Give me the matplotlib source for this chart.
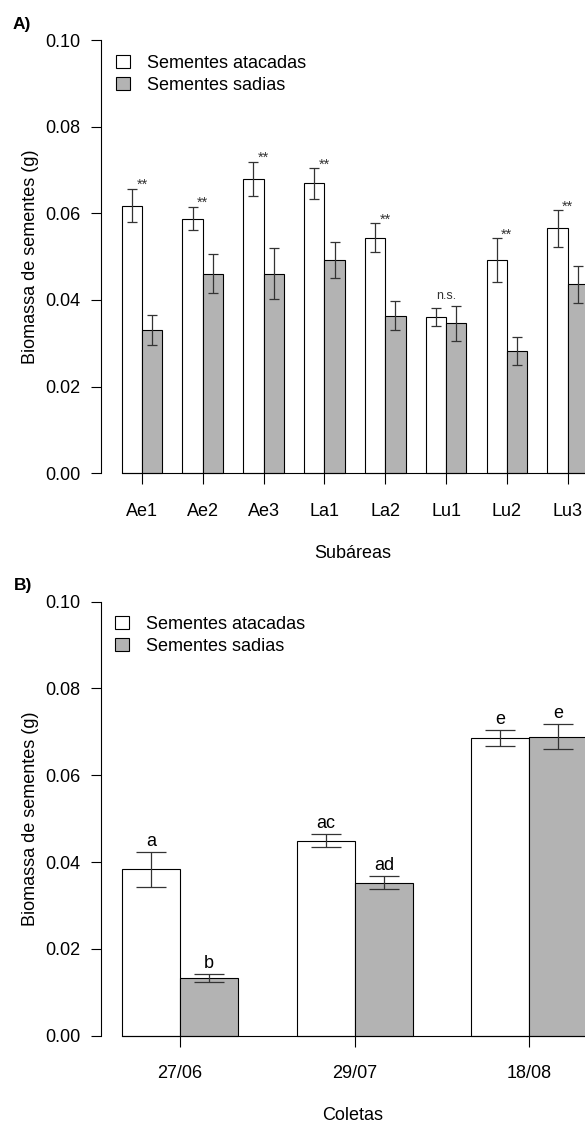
import numpy as np
import matplotlib.pyplot as plt
from matplotlib.patches import Patch

plt.rcParams['font.family'] = ['Liberation Sans', 'DejaVu Sans']
plt.rcParams['font.size'] = 13

# painel A - subareas
subareas = ['Ae1', 'Ae2', 'Ae3', 'La1', 'La2', 'Lu1', 'Lu2', 'Lu3']
a_atacadas = [0.0618, 0.0588, 0.0679, 0.0669, 0.0544, 0.0361, 0.0492, 0.0565]
a_atacadas_se = [0.0039, 0.0027, 0.0040, 0.0035, 0.0034, 0.0020, 0.0051, 0.0042]
a_sadias = [0.0331, 0.0461, 0.0461, 0.0492, 0.0364, 0.0346, 0.0282, 0.0436]
a_sadias_se = [0.0034, 0.0045, 0.0058, 0.0042, 0.0033, 0.0041, 0.0033, 0.0042]
a_signif = ['**', '**', '**', '**', '**', 'n.s.', '**', '**']

# painel B - coletas
coletas = ['27/06', '29/07', '18/08']
b_atacadas = [0.0383, 0.0449, 0.0686]
b_atacadas_se = [0.0040, 0.0015, 0.0018]
b_sadias = [0.0133, 0.0353, 0.0689]
b_sadias_se = [0.00085, 0.00145, 0.0029]
b_letras_atacadas = ['a', 'ac', 'e']
b_letras_sadias = ['b', 'ad', 'e']

yticks = [0.00, 0.02, 0.04, 0.06, 0.08, 0.10]
cinza = '#b3b3b3'

W, H = 585, 1126
fig = plt.figure(figsize=(W / 100, H / 100), dpi=100)


def px_axes(left, right, top, bottom):
    return fig.add_axes([left / W, 1 - bottom / H, (right - left) / W, (bottom - top) / H])


def painel(ax, labels, atac, atac_se, sad, sad_se, xlim, capsize, xlabel):
    centers = 2 + 3 * np.arange(len(labels))
    ax.bar(centers - 0.5, atac, width=1, color='white', edgecolor='black', linewidth=0.8)
    ax.bar(centers + 0.5, sad, width=1, color=cinza, edgecolor='black', linewidth=0.8)
    for xs, m, s in [(centers - 0.5, atac, atac_se), (centers + 0.5, sad, sad_se)]:
        ax.errorbar(xs, m, yerr=s, fmt='none', ecolor='#333333', elinewidth=0.9,
                    capsize=capsize, capthick=0.9)
    ax.set_xlim(xlim)
    ax.set_ylim(-0.004, 0.104)
    for s in ['top', 'right']:
        ax.spines[s].set_visible(False)
    ax.spines['left'].set_bounds(0, 0.1)
    ax.spines['left'].set_linewidth(0.8)
    ax.spines['bottom'].set_position(('data', 0))
    ax.spines['bottom'].set_bounds(centers[0] - 1, xlim[1])
    ax.spines['bottom'].set_linewidth(0.8)
    ax.set_xticks(centers, labels)
    ax.set_yticks(yticks, ['%.2f' % v for v in yticks])
    ax.tick_params(axis='x', length=7.7, width=0.8, pad=13.5, labelsize=13)
    ax.tick_params(axis='y', length=7, width=0.8, pad=8, labelsize=13)
    ax.set_ylabel('Biomassa de sementes (g)', fontsize=13, labelpad=4)
    ax.set_xlabel(xlabel, fontsize=13, labelpad=18)
    return centers


handles = [Patch(facecolor='white', edgecolor='black', linewidth=0.8, label='Sementes atacadas'),
           Patch(facecolor=cinza, edgecolor='black', linewidth=0.8, label='Sementes sadias')]
leg_kw = dict(loc='upper left', bbox_transform=fig.transFigure, frameon=False, borderpad=0,
              borderaxespad=0, handlelength=0.8, handleheight=0.7, handletextpad=0.9,
              labelspacing=0.27, fontsize=13)

# A)
axA = px_axes(101, 605, 22.7, 490.6)
cA = painel(axA, subareas, a_atacadas, a_atacadas_se, a_sadias, a_sadias_se,
            (-0.02, 24.84), 3.6, 'Subáreas')
topo = np.maximum(np.array(a_atacadas) + a_atacadas_se, np.array(a_sadias) + a_sadias_se)
for x, t, lab in zip(cA, topo, a_signif):
    if lab == '**':
        axA.text(x, t - 0.0001, lab, ha='center', va='baseline', fontsize=10.5, color='#333333')
    else:
        axA.text(x, t + 0.0015, lab, ha='center', va='baseline', fontsize=9, color='#333333')
axA.legend(handles=handles, bbox_to_anchor=(116 / W, 1 - 55 / H), **leg_kw)
fig.text(13 / W, 1 - 24 / H, 'A)', fontsize=12.5, fontweight='bold', va='center')

# B)
axB = px_axes(101, 605, 584.3, 1053.1)
cB = painel(axB, coletas, b_atacadas, b_atacadas_se, b_sadias, b_sadias_se,
            (0.64, 9.30), 10.8, 'Coletas')
for xs, m, s, labs in [(cB - 0.5, b_atacadas, b_atacadas_se, b_letras_atacadas),
                       (cB + 0.5, b_sadias, b_sadias_se, b_letras_sadias)]:
    for x, mm, ss, lab in zip(xs, m, s, labs):
        axB.text(x, mm + ss + 0.0015, lab, ha='center', va='baseline', fontsize=13)
axB.legend(handles=handles, bbox_to_anchor=(115 / W, 1 - 616 / H), **leg_kw)
fig.text(14 / W, 1 - 585 / H, 'B)', fontsize=12.5, fontweight='bold', va='center')

fig.savefig('out.png', dpi=100)
